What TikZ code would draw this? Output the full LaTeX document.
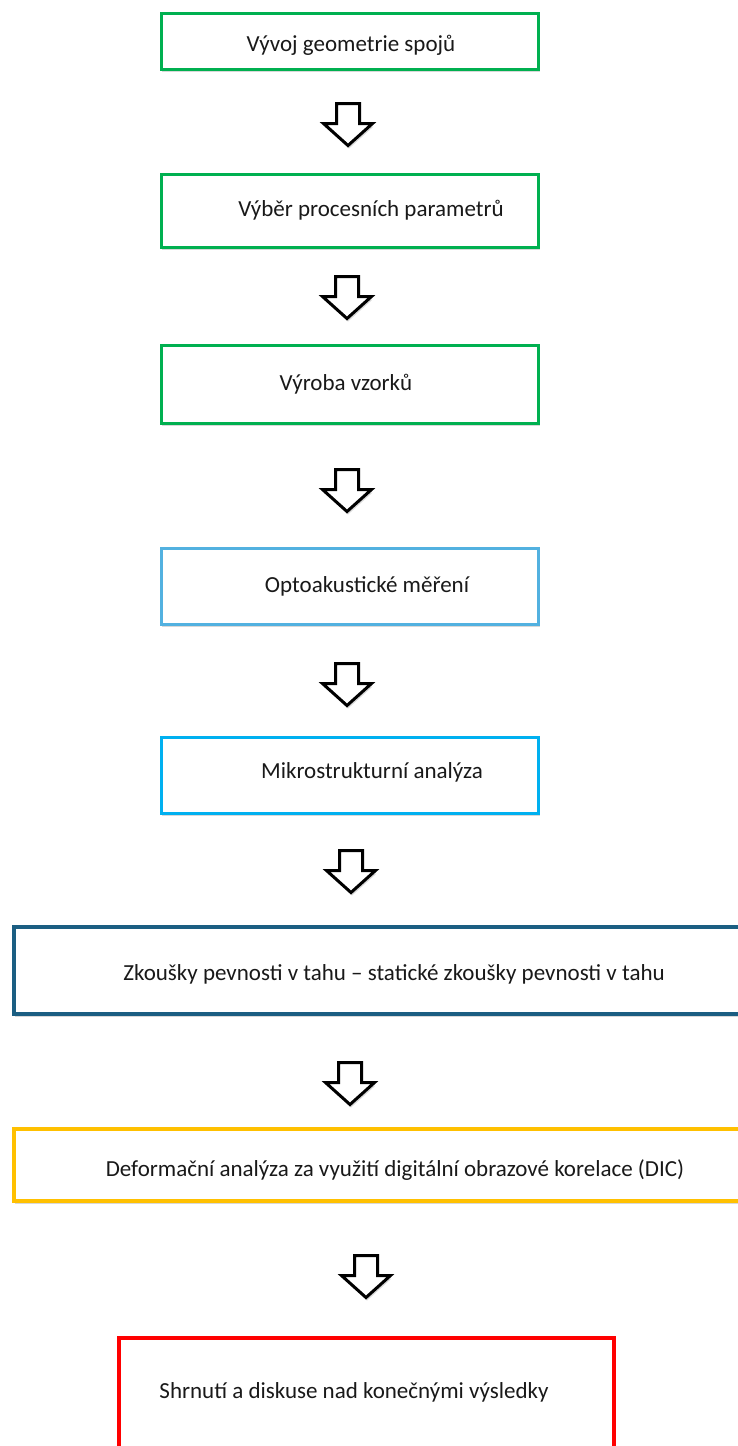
\documentclass[tikz,border=0pt]{standalone}
\usepackage{fontspec}
\setmainfont{Carlito}
\usetikzlibrary{shadows}
\definecolor{cgreen}{HTML}{00B050}
\definecolor{clblue}{HTML}{52B1E0}
\definecolor{ccyan}{HTML}{00B0F0}
\definecolor{cdblue}{HTML}{1B5E82}
\definecolor{cyellow}{HTML}{FFC000}
\definecolor{cred}{HTML}{FF0000}
\tikzset{
  stepbox/.style={draw, fill=white, line width=#1, drop shadow={shadow xshift=1pt, shadow yshift=-2.5pt, opacity=0.25, fill=black!60}},
  stepbox/.default=3pt,
  steptext/.style={anchor=base, inner sep=0pt, font=\fontsize{23}{27}\selectfont, text=black!90},
  barrow/.style={draw=black, fill=white, line width=3pt, line join=miter, drop shadow={shadow xshift=1pt, shadow yshift=-3pt, opacity=0.25, fill=black!60}}
}
\newcommand\blockarrow[1]{\draw[barrow] (#1) ++(-11.5,0) -- ++(23,0) -- ++(0,20) -- ++(13,0) -- ++(-24.5,22) -- ++(-24.5,-22) -- ++(13,0) -- cycle;}
\begin{document}
\begin{tikzpicture}[x=1pt,y=-1pt]
\useasboundingbox (0,0) rectangle (738,1446);
\clip (0,0) rectangle (738,1446);
\fill[white] (0,0) rectangle (738,1446);
% boxes
\draw[stepbox, draw=cgreen] (161,13.5) rectangle (538.5,69.5);
\node[steptext] (t1) at (351,51) {Vývoj geometrie spojů};
\draw[stepbox, draw=cgreen] (161,174.5) rectangle (538.5,247.5);
\node[steptext] (t2) at (371,216) {Výběr procesních parametrů};
\draw[stepbox, draw=cgreen] (161,345) rectangle (538.5,423);
\node[steptext] (t3) at (346,390) {Výroba vzorků};
\draw[stepbox, draw=clblue] (161,548.5) rectangle (538.5,624.5);
\node[steptext] (t4) at (367,592) {Optoakustické měření};
\draw[stepbox, draw=ccyan] (161,737.5) rectangle (538.5,813.5);
\node[steptext] (t5) at (372,778) {Mikrostrukturní analýza};
\draw[stepbox=4pt, draw=cdblue] (14,927) rectangle (760,1014);
\node[steptext] (t6) at (394,980) {Zkoušky pevnosti v tahu – statické zkoušky pevnosti v tahu};
\draw[stepbox=3.5pt, draw=cyellow] (13.75,1128.75) rectangle (760,1201);
\node[steptext] (t7) at (395,1176) {Deformační analýza za využití digitální obrazové korelace (DIC)};
\draw[stepbox=4pt, draw=cred] (119,1338) rectangle (614,1470);
\node[steptext] (t8) at (354,1398) {Shrnutí a diskuse nad konečnými výsledky};
% arrows
\coordinate (a1) at (348,103.5);
\coordinate (a2) at (347,276.5);
\coordinate (a3) at (347,469.5);
\coordinate (a4) at (347,663.5);
\coordinate (a5) at (351,850.5);
\coordinate (a6) at (350,1062.5);
\coordinate (a7) at (366,1255.5);
\blockarrow{a1}
\blockarrow{a2}
\blockarrow{a3}
\blockarrow{a4}
\blockarrow{a5}
\blockarrow{a6}
\blockarrow{a7}
\end{tikzpicture}
\end{document}
